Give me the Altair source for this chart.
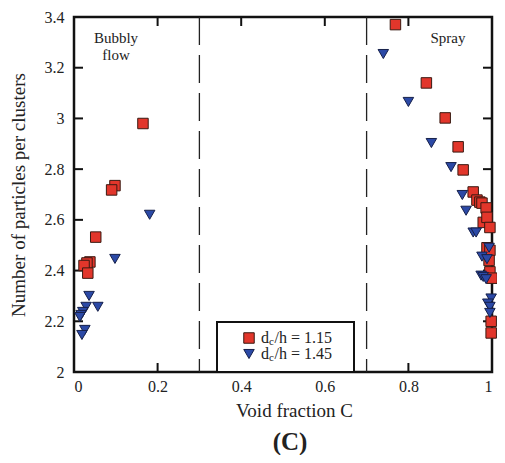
import altair as alt
import pandas as pd

# d_c/h = 1.15 (red squares)
sq_x = [0.165, 0.098, 0.090, 0.052, 0.038, 0.031, 0.024, 0.033,
        0.769, 0.843, 0.888, 0.919, 0.931, 0.955, 0.964, 0.971, 0.976, 0.986,
        0.979, 0.988, 0.995, 0.988, 0.995, 0.993, 0.995, 1.0, 0.998, 0.998]
sq_y = [2.98, 2.735, 2.718, 2.532, 2.434, 2.43, 2.42, 2.39,
        3.37, 3.14, 3.002, 2.888, 2.797, 2.71, 2.678, 2.67, 2.666, 2.647,
        2.59, 2.61, 2.57, 2.49, 2.48, 2.44, 2.395, 2.37, 2.2, 2.154]

# d_c/h = 1.45 (blue triangles)
tri_x = [0.181, 0.098, 0.036, 0.057, 0.029, 0.021, 0.017, 0.014, 0.026, 0.019,
         0.74, 0.80, 0.855, 0.902, 0.929, 0.938, 0.955, 0.962, 0.993, 0.976,
         0.988, 0.974, 0.979, 0.986, 0.998, 0.99, 0.995, 0.995]
tri_y = [2.62, 2.446, 2.30, 2.257, 2.257, 2.237, 2.225, 2.217, 2.166, 2.146,
         3.254, 3.065, 2.903, 2.808, 2.698, 2.636, 2.55, 2.55, 2.49, 2.455,
         2.445, 2.38, 2.375, 2.366, 2.29, 2.27, 2.257, 2.233]

regime_x = [0.3, 0.7]
x_ticks = [0.2, 0.4, 0.6, 0.8]
y_ticks = [2.2, 2.4, 2.6, 2.8, 3.0, 3.2]

FONT = "Liberation Serif"
W, H = 418, 355

xs = alt.Scale(domain=[0, 1], nice=False, zero=False)
ys = alt.Scale(domain=[2, 3.4], nice=False, zero=False)

sq_df = pd.DataFrame({"x": sq_x, "y": sq_y})
tri_df = pd.DataFrame({"x": tri_x, "y": tri_y})
one = pd.DataFrame({"a": [0]})

xaxis = alt.Axis(values=[0, 0.2, 0.4, 0.6, 0.8, 1], format="~g", title="Void fraction C",
                 labelFont=FONT, labelFontSize=16, labelColor="#222",
                 titleFont=FONT, titleFontSize=19, titleFontWeight="normal", titleColor="#222",
                 titlePadding=7, titleX=220, labelPadding=6)
yaxis = alt.Axis(values=[2, 2.2, 2.4, 2.6, 2.8, 3.0, 3.2, 3.4], format="~g",
                 title="Number of particles per clusters",
                 labelFont=FONT, labelFontSize=16, labelColor="#222",
                 titleFont=FONT, titleFontSize=19, titleFontWeight="normal", titleColor="#222",
                 titlePadding=16, labelPadding=10)

squares = alt.Chart(sq_df).mark_point(shape="square", filled=True, size=110, fill="#e2362b",
                                      stroke="#3a1a12", strokeWidth=1, opacity=1).encode(
    x=alt.X("x:Q", scale=xs, axis=xaxis),
    y=alt.Y("y:Q", scale=ys, axis=yaxis),
)
triangles = alt.Chart(tri_df).mark_point(shape="triangle-down", filled=True, size=110, fill="#2b49a6",
                                         stroke="#16204a", strokeWidth=1, opacity=1).encode(
    x=alt.X("x:Q", scale=xs),
    y=alt.Y("y:Q", scale=ys),
)

dashed = alt.Chart(pd.DataFrame({"x": regime_x})).mark_rule(
    color="#222", strokeWidth=1.3, strokeDash=[28, 10]).encode(x=alt.X("x:Q", scale=xs))

xt = pd.DataFrame({"x": x_ticks})
yt = pd.DataFrame({"y": y_ticks})
tick_style = dict(color="#111", strokeWidth=2)
ticks_bottom = alt.Chart(xt).mark_rule(**tick_style).encode(
    x=alt.X("x:Q", scale=xs), y=alt.value(H), y2=alt.value(H - 9))
ticks_top = alt.Chart(xt).mark_rule(**tick_style).encode(
    x=alt.X("x:Q", scale=xs), y=alt.value(0), y2=alt.value(9))
ticks_left = alt.Chart(yt).mark_rule(**tick_style).encode(
    y=alt.Y("y:Q", scale=ys), x=alt.value(0), x2=alt.value(9))
ticks_right = alt.Chart(yt).mark_rule(**tick_style).encode(
    y=alt.Y("y:Q", scale=ys), x=alt.value(W), x2=alt.value(W - 9))

def txt(s, x, y, size=15, weight="normal", align="center"):
    return alt.Chart(one).mark_text(font=FONT, fontSize=size, fontWeight=weight, align=align,
                                    baseline="middle", color="#222").encode(
        x=alt.value(x), y=alt.value(y), text=alt.value(s))

labels = [
    txt("Bubbly", 42, 21), txt("flow", 42, 38), txt("Spray", 374, 21),
    txt("(C)", 216, 425, size=25, weight="bold"),
]

legend_box = alt.Chart(one).mark_rect(fill="white", stroke="#111", strokeWidth=2).encode(
    x=alt.value(143), x2=alt.value(280), y=alt.value(305), y2=alt.value(H))
leg_sq = alt.Chart(one).mark_point(shape="square", filled=True, size=110, fill="#e2362b",
                                   stroke="#3a1a12", strokeWidth=1, opacity=1).encode(
    x=alt.value(175), y=alt.value(321))
leg_tri = alt.Chart(one).mark_point(shape="triangle-down", filled=True, size=110, fill="#2b49a6",
                                    stroke="#16204a", strokeWidth=1, opacity=1).encode(
    x=alt.value(175), y=alt.value(337))
leg_text = []
for yy, val in [(321, "1.15"), (337, "1.45")]:
    leg_text += [txt("d", 187, yy, size=16, align="left"),
                 txt("c", 195, yy + 4, size=11, align="left"),
                 txt("/h = " + val, 200.5, yy, size=16, align="left")]

chart = alt.layer(
    dashed, ticks_bottom, ticks_top, ticks_left, ticks_right,
    squares, triangles, legend_box, leg_sq, leg_tri, *leg_text, *labels
).properties(
    width=W, height=H,
    autosize=alt.AutoSizeParams(type="none"),
    padding={"left": 66, "top": 9, "right": 5, "bottom": 83},
).configure_view(
    stroke="#111", strokeWidth=2.5
).configure_axis(
    domain=False, ticks=False, grid=False,
    labelFont=FONT, labelFontSize=16, labelColor="#222"
)

chart.save("out.html", embed_options={"renderer": "svg", "actions": False})
